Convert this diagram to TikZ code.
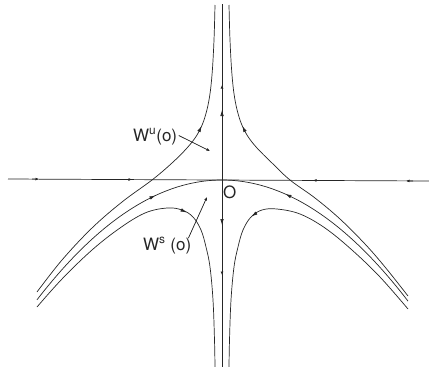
\documentclass[tikz,border=0pt]{standalone}
\usepackage{fontspec}
\setmainfont{TeX Gyre Heros}
\usetikzlibrary{arrows.meta}
\begin{document}
\begin{tikzpicture}[x=1pt,y=-1pt,
  curve/.style={line width=0.7pt, draw=black!85},
  tipl/.style={-{Latex[length=6pt,width=3.6pt]}, line width=0.7pt, draw=black!85, fill=black!85},
  tips/.style={-{Latex[length=3.5pt,width=3pt]}, line width=0.7pt, draw=black!85, fill=black!85},
  lab/.style={font=\fontsize{17}{20}\selectfont, inner sep=0pt, anchor=base west, text=black!85}]
\useasboundingbox (0,0) rectangle (429,367);
% axes
\coordinate (hl) at (8,179);
\coordinate (hr) at (429,181);
\coordinate (vt) at (222,4);
\coordinate (vb) at (222,367);
\draw[curve] (hl) -- (hr);
\draw[curve] (vt) -- (vb);
% upper-left branch
\draw[curve] plot[smooth, tension=0.6] coordinates {(37,292) (62,260) (92,228) (122,202) (152,180) (172,163) (187,148) (197,135) (204,120) (209,100) (212,75) (214,40) (215,5)};
% upper-right branch
\draw[curve] plot[smooth, tension=0.6] coordinates {(229,5) (230,40) (232,75) (235,100) (240,120) (247,135) (257,148) (272,163) (290,180) (315,198) (340,219) (365,244) (385,267) (408,296)};
% stable curve through O
\draw[curve] plot[domain=37:408, samples=90] (\x, {180+0.35*((\x-222)/10)^2});
% lower-left arch
\draw[curve] plot[smooth, tension=0.6] coordinates {(37,307) (62,279) (92,250) (120,228) (145,213) (167,208) (182,210) (193,217) (201,230) (206,247) (210,267) (213,300) (214.5,340) (215,367)};
% lower-right arch
\draw[curve] plot[smooth, tension=0.6] coordinates {(229,367) (229.5,340) (231,300) (234,267) (238,247) (243,230) (251,217) (262,210) (277,209) (300,214) (325,228) (352,250) (380,277) (408,309)};
% arrowheads on curves
\draw[tipl] (199,131.5) -- (201.5,126);
\draw[tipl] (245,131.5) -- (242.5,126);
\draw[tipl] (150,198.1) -- (155.5,195.5);
\draw[tipl] (291,196.7) -- (285.5,194);
\draw[tipl] (181,209.8) -- (186.5,212.5);
\draw[tipl] (257,212.5) -- (251.5,216.5);
% arrowheads on axes
\draw[tipl] (222,118) -- (222,110);
\draw[tips] (222,91) -- (222,85);
\draw[tipl] (222,216) -- (222,225);
\draw[tips] (222,269) -- (222,275);
\draw[tips] (32,179) -- (39,179.1);
\draw[tips] (125,179.4) -- (132,179.5);
\draw[tips] (320,180.5) -- (313,180.4);
\draw[tips] (413,181) -- (406,180.9);
% labels
\node[lab] (wu) at (133,141) {W\textsuperscript{u}(o)};
\node[lab] (ws) at (143,250) {W\textsuperscript{s} (o)};
\node[lab] (o) at (223,198) {O};
\coordinate (wuT) at (210,151);
\coordinate (wsT) at (207,197);
\draw[tips] ([xshift=1.5pt,yshift=1pt]wu.east) -- (wuT);
\draw[tips] ([xshift=-3pt,yshift=-1pt]ws.north east) -- (wsT);
\end{tikzpicture}
\end{document}
